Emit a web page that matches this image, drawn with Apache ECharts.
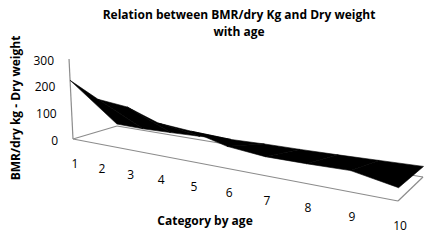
<!DOCTYPE html>
<html>
<head>
<meta charset="utf-8">
<script src="https://cdn.jsdelivr.net/npm/echarts@6/dist/echarts.min.js"></script>
<style>
html,body{margin:0;padding:0;background:#fff;}
#chart{width:430px;height:240px;}
</style>
</head>
<body>
<div id="chart"></div>
<script>
// ---- data ----
const categories = ['1','2','3','4','5','6','7','8','9','10'];
const bmrPerDryKg = [220, 163, 150, 110, 100, 70, 58, 58, 60, 36];   // front edge
const dryWeight   = [8, 6, 9, 13, 20, 23, 24, 26, 29, 32];           // back edge
const yTicks = [0, 100, 200, 300];
const titleLines = ['Relation between BMR/dry Kg and Dry weight', 'with age'];
const xName = 'Category by age';
const yName = 'BMR/dry kg - Dry weight';

// ---- perspective layout (floor corners in px) ----
const FL = [73,139], FR = [398,201], BR = [423,177], BL = [117,126];
const VVP = [250, 3700]; // vanishing point of vertical lines
const H = (function(){
  const x0=FL[0],y0=FL[1],x1=FR[0],y1=FR[1],x2=BR[0],y2=BR[1],x3=BL[0],y3=BL[1];
  const dx1=x1-x2, dx2=x3-x2, dx3=x0-x1+x2-x3;
  const dy1=y1-y2, dy2=y3-y2, dy3=y0-y1+y2-y3;
  const det=dx1*dy2-dx2*dy1;
  const g=(dx3*dy2-dx2*dy3)/det, h=(dx1*dy3-dx3*dy1)/det;
  return {a:x1-x0+g*x1, b:x3-x0+h*x3, c:x0, d:y1-y0+g*y1, e:y3-y0+h*y3, f:y0, g:g, h:h};
})();
function proj(u, dep, hpx){
  const w = H.g*u + H.h*dep + 1;
  const fx = (H.a*u + H.b*dep + H.c)/w, fy = (H.d*u + H.e*dep + H.f)/w;
  const s = hpx / w;
  const dx = (fx - VVP[0])/(VVP[1] - fy) * s;
  return [fx + dx, fy - s];
}
// map a point from the hidden flat grid into the perspective view
function P(pt, dep, cs){
  const u = (pt[0]-cs.x)/cs.width;
  const hpx = cs.y + cs.height - pt[1];
  return proj(u, dep, hpx);
}

const segData = [];
for (let i = 0; i < categories.length - 1; i++) {
  segData.push([i, bmrPerDryKg[i], dryWeight[i], i+1, bmrPerDryKg[i+1], dryWeight[i+1]]);
}
const lastIdx = categories.length - 1;
const yMax = yTicks[yTicks.length-1];
const FONT = '"Open Sans", "Liberation Sans", sans-serif';

const chart = echarts.init(document.getElementById('chart'), null, {renderer:'svg'});
chart.setOption({
  animation: false,
  backgroundColor: '#fff',
  grid: {left: 0, top: 0, width: 100, height: 80},
  xAxis: {type:'category', data: categories, boundaryGap:false, show:false},
  yAxis: {type:'value', min:0, max:yMax, interval:100, show:false},
  graphic: [
    {type:'text', x:239, y:14, style:{text:titleLines[0], font:'bold 12px '+FONT, fill:'#000', align:'center', verticalAlign:'middle'}},
    {type:'text', x:239, y:31, style:{text:titleLines[1], font:'bold 12px '+FONT, fill:'#000', align:'center', verticalAlign:'middle'}},
    {type:'text', x:205, y:220, style:{text:xName, font:'bold 12px '+FONT, fill:'#000', align:'center', verticalAlign:'middle'}},
    {type:'text', x:15, y:108, rotation:Math.PI/2, style:{text:yName, font:'bold 12px '+FONT, fill:'#000', align:'center', verticalAlign:'middle'}}
  ],
  series: [
    { // floor frame + vertical axis line
      type:'custom', clip:false, z:1, silent:true,
      data:[[0,0]],
      renderItem: function(params, api){
        const cs = params.coordSys;
        const o = api.coord([0,0]), e = api.coord([lastIdx,0]), t = api.coord([0,yMax]);
        const fl = P(o,0,cs), fr = P(e,0,cs), bl = P(o,1,cs), br = P(e,1,cs), top = P(t,0,cs);
        const st = {stroke:'#8c8c8c', lineWidth:1.2, fill:null};
        const line = (p,q) => ({type:'line', shape:{x1:p[0],y1:p[1],x2:q[0],y2:q[1]}, style:st});
        return {type:'group', children:[line(fl,fr), line(bl,br), line(fl,bl), line(fr,br), line(fl,top)]};
      }
    },
    { // ribbon surface between the two series
      type:'custom', clip:false, z:2, silent:true,
      data: segData,
      encode:{x:0, y:1},
      renderItem: function(params, api){
        const cs = params.coordSys;
        const i0 = api.value(0), f0 = api.value(1), b0 = api.value(2);
        const i1 = api.value(3), f1 = api.value(4), b1 = api.value(5);
        const A0 = P(api.coord([i0,f0]),0,cs), A1 = P(api.coord([i1,f1]),0,cs);
        const B1 = P(api.coord([i1,b1]),1,cs), B0 = P(api.coord([i0,b0]),1,cs);
        return {type:'polygon', shape:{points:[A0,A1,B1,B0]}, style:{fill:'#000', stroke:'#000', lineWidth:0.6}};
      }
    },
    { // category labels
      type:'custom', clip:false, z:3, silent:true,
      data: categories.map((c,i)=>[i,0]),
      encode:{x:0, y:1},
      renderItem: function(params, api){
        const cs = params.coordSys;
        const p = P(api.coord([api.value(0),0]),0,cs);
        return {type:'text', x:p[0]+2, y:p[1]+24.5,
          style:{text:categories[params.dataIndex], font:'12px '+FONT, fill:'#000', align:'center', verticalAlign:'middle'}};
      }
    },
    { // value labels
      type:'custom', clip:false, z:3, silent:true,
      data: yTicks.map(v=>[0,v]),
      encode:{x:0, y:1},
      renderItem: function(params, api){
        const cs = params.coordSys;
        const p = P(api.coord([0, api.value(1)]),0,cs);
        return {type:'text', x:p[0]-15, y:p[1]+1,
          style:{text:String(yTicks[params.dataIndex]), font:'12px '+FONT, fill:'#000', align:'right', verticalAlign:'middle'}};
      }
    }
  ]
});
</script>
</body>
</html>
